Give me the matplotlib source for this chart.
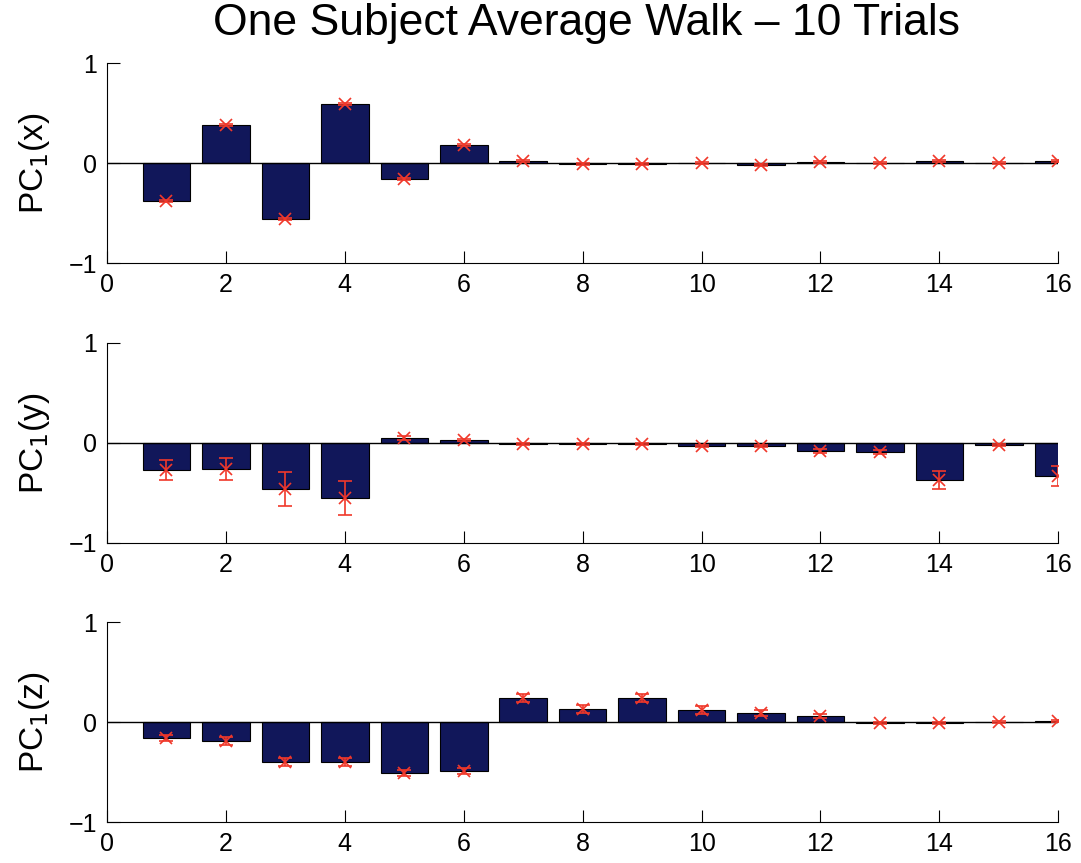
import numpy as np
import matplotlib.pyplot as plt

plt.rcParams['font.family'] = ['Liberation Sans', 'DejaVu Sans']

# ---------------------------------------------------------
# Data (16 components per axis)
# ---------------------------------------------------------

idx = np.arange(1, 17)

pc_x = [-0.38, 0.38, -0.56, 0.59, -0.16, 0.18, 0.02, -0.01,
        -0.01, 0.00, -0.02, 0.01, 0.00, 0.02, 0.00, 0.02]
err_x = [0.01] * 16

pc_y = [-0.27, -0.26, -0.46, -0.55, 0.05, 0.03, -0.01, -0.01,
        -0.01, -0.03, -0.03, -0.08, -0.09, -0.37, -0.02, -0.33]
err_y = [0.10, 0.11, 0.17, 0.17, 0.02, 0.01, 0.01, 0.01,
         0.01, 0.01, 0.01, 0.02, 0.02, 0.09, 0.01, 0.10]

pc_z = [-0.16, -0.19, -0.40, -0.40, -0.51, -0.49, 0.24, 0.13,
        0.24, 0.12, 0.09, 0.06, -0.01, -0.01, 0.00, 0.01]
err_z = [0.03, 0.04, 0.04, 0.04, 0.03, 0.03, 0.04, 0.04,
         0.04, 0.04, 0.03, 0.02, 0.01, 0.01, 0.01, 0.01]

panels = [("x", pc_x, err_x), ("y", pc_y, err_y), ("z", pc_z, err_z)]

xticks = [0, 2, 4, 6, 8, 10, 12, 14, 16]
yticks = [-1, 0, 1]

bar_color = "#11175a"
err_color = "#f0382a"

# ---------------------------------------------------------
# Plot
# ---------------------------------------------------------

fig = plt.figure(figsize=(10.81, 8.63), dpi=100)

bottoms = [0.695, 0.371, 0.0475]

for (name, vals, errs), b in zip(panels, bottoms):

    ax = fig.add_axes([0.099, b, 0.880, 0.2317])

    ax.bar(idx, vals, width=0.8, color=bar_color, edgecolor="k", linewidth=0.8)
    ax.axhline(0, color="k", linewidth=1.0)
    ax.errorbar(idx, vals, yerr=errs, fmt="x", color=err_color,
                markersize=8, markeredgewidth=1.2, elinewidth=1.2,
                capsize=5, capthick=1.2)

    ax.set_xlim(0, 16)
    ax.set_ylim(-1, 1)
    ax.set_xticks(xticks)
    ax.set_yticks(yticks)

    ax.spines["top"].set_visible(False)
    ax.spines["right"].set_visible(False)
    ax.tick_params(direction="in", length=9, labelsize=18, pad=7)

    ax.set_ylabel(f"PC$_1$({name})", fontsize=24, labelpad=12)

fig.suptitle("One Subject Average Walk \u2013 10 Trials", fontsize=32, x=0.543, y=0.997)

plt.savefig("out.png", dpi=100)
